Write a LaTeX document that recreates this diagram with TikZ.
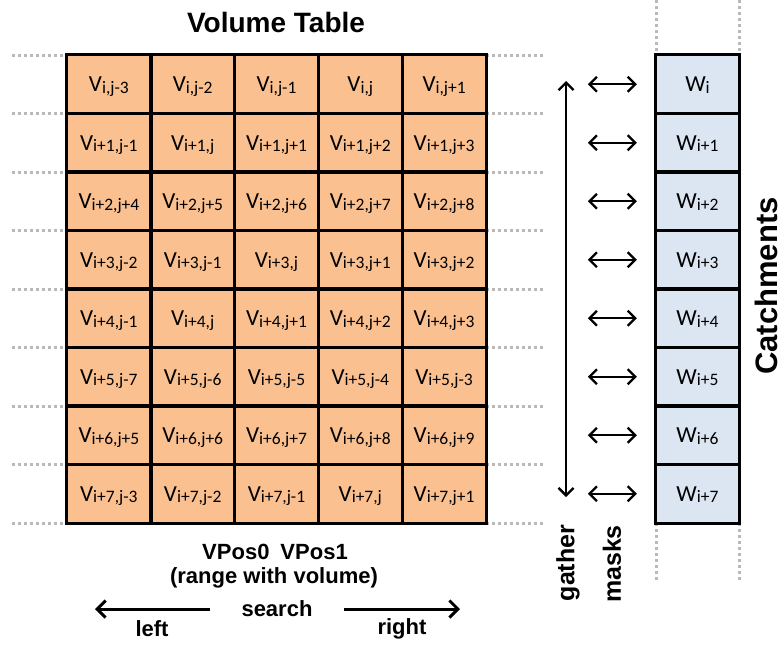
\documentclass[tikz,border=0pt]{standalone}
\usepackage{fontspec}
\setmainfont{Carlito}
\newfontfamily\arialf{Liberation Sans}
\usetikzlibrary{arrows.meta}
\definecolor{vfill}{RGB}{250,192,144}
\definecolor{wfill}{RGB}{220,230,242}
\definecolor{dotgray}{RGB}{185,185,185}
\newcommand\vsub[1]{\raisebox{-1.5pt}{\fontsize{17.5}{18}\selectfont #1}}
\newcommand\vv[1]{V\vsub{#1}}
\newcommand\ww[1]{W\vsub{#1}}
\newcommand\vcellat[3]{\node[vcell] (v#1#2) at ({67+83.8*(#2+0.5)},{55+58.5*(#1+0.5)}) {\vv{#3}};}
\begin{document}
\begin{tikzpicture}[x=1pt,y=-1pt,
  vcell/.style={fill=vfill,minimum width=83.8pt,minimum height=58.5pt,inner sep=0pt,text depth=0pt,font=\fontsize{23}{24}\selectfont},
  wcell/.style={fill=wfill,minimum width=83pt,minimum height=58.5pt,inner sep=0pt,text depth=0pt,font=\fontsize{23}{24}\selectfont},
  border/.style={draw=black,line width=3pt},
  dotline/.style={dotgray,line width=3pt,dash pattern=on 3pt off 3pt},
  arr/.style={black,line width=2.3pt,{Straight Barb[length=7.5pt,width=15pt]}-{Straight Barb[length=7.5pt,width=15pt]}},
  bigarr/.style={black,line width=3pt,-{Straight Barb[length=8.5pt,width=17pt]}},
  lbl/.style={font=\arialf\bfseries\fontsize{22}{24}\selectfont,inner sep=0pt}]
\useasboundingbox (0,0) rectangle (784,646);
% dotted guide lines
\foreach \k in {0,...,8}{
  \draw[dotline] (12,{55+58.5*\k}) -- (67,{55+58.5*\k});
  \draw[dotline] (486,{55+58.5*\k}) -- (545,{55+58.5*\k});
}
\draw[dotline] (656,0) -- (656,55);
\draw[dotline] (739,0) -- (739,55);
\draw[dotline] (656,523) -- (656,582);
\draw[dotline] (739,523) -- (739,582);
% volume table
\vcellat{0}{0}{i,j-3}\vcellat{0}{1}{i,j-2}\vcellat{0}{2}{i,j-1}\vcellat{0}{3}{i,j}\vcellat{0}{4}{i,j+1}
\vcellat{1}{0}{i+1,j-1}\vcellat{1}{1}{i+1,j}\vcellat{1}{2}{i+1,j+1}\vcellat{1}{3}{i+1,j+2}\vcellat{1}{4}{i+1,j+3}
\vcellat{2}{0}{i+2,j+4}\vcellat{2}{1}{i+2,j+5}\vcellat{2}{2}{i+2,j+6}\vcellat{2}{3}{i+2,j+7}\vcellat{2}{4}{i+2,j+8}
\vcellat{3}{0}{i+3,j-2}\vcellat{3}{1}{i+3,j-1}\vcellat{3}{2}{i+3,j}\vcellat{3}{3}{i+3,j+1}\vcellat{3}{4}{i+3,j+2}
\vcellat{4}{0}{i+4,j-1}\vcellat{4}{1}{i+4,j}\vcellat{4}{2}{i+4,j+1}\vcellat{4}{3}{i+4,j+2}\vcellat{4}{4}{i+4,j+3}
\vcellat{5}{0}{i+5,j-7}\vcellat{5}{1}{i+5,j-6}\vcellat{5}{2}{i+5,j-5}\vcellat{5}{3}{i+5,j-4}\vcellat{5}{4}{i+5,j-3}
\vcellat{6}{0}{i+6,j+5}\vcellat{6}{1}{i+6,j+6}\vcellat{6}{2}{i+6,j+7}\vcellat{6}{3}{i+6,j+8}\vcellat{6}{4}{i+6,j+9}
\vcellat{7}{0}{i+7,j-3}\vcellat{7}{1}{i+7,j-2}\vcellat{7}{2}{i+7,j-1}\vcellat{7}{3}{i+7,j}\vcellat{7}{4}{i+7,j+1}
\foreach \r in {0,...,7}{
  \foreach \c in {0,...,4}{
    \draw[border] (v\r\c.north west) rectangle (v\r\c.south east);
  }
}
% catchments
\node[wcell] (w0) at (697.5,{55+58.5*0.5}) {\ww{i}};
\foreach \k in {1,...,7}{
  \node[wcell] (w\k) at (697.5,{55+58.5*(\k+0.5)}) {\ww{i+\k}};
}
\foreach \k in {0,...,7}{
  \draw[border] (w\k.north west) rectangle (w\k.south east);
}
% masks arrows
\foreach \k in {0,...,7}{
  \draw[arr] ([xshift=-68pt]w\k.west) -- ([xshift=-19pt]w\k.west);
}
% gather arrow
\coordinate (gtop) at (566,81);
\coordinate (gbot) at (566,497);
\draw[arr] (gtop) -- (gbot);
% labels
\node[lbl,font=\arialf\bfseries\fontsize{28}{30}\selectfont] (title) at (276,22) {Volume Table};
\node[lbl,font=\arialf\bfseries\fontsize{31}{33}\selectfont,rotate=90] (catch) at (766,286) {Catchments};
\node[lbl,font=\arialf\bfseries\fontsize{25}{27}\selectfont,rotate=90,anchor=center] (gather) at (568,563) {gather};
\node[lbl,font=\arialf\bfseries\fontsize{25}{27}\selectfont,rotate=90,anchor=center] (masks) at (612,564) {masks};
\node[lbl] (vpos) at (275,552) {VPos0\hspace{11pt}VPos1};
\node[lbl] (range) at (274,578) {(range with volume)};
\node[lbl] (search) at (277,609) {search};
\node[lbl] (left) at (152,629) {left};
\node[lbl] (right) at (402,629) {right};
\coordinate (la) at (210,609);
\coordinate (lb) at (95,609);
\coordinate (ra) at (344,609);
\coordinate (rb) at (460,609);
\draw[bigarr] (la) -- (lb);
\draw[bigarr] (ra) -- (rb);
\end{tikzpicture}
\end{document}
